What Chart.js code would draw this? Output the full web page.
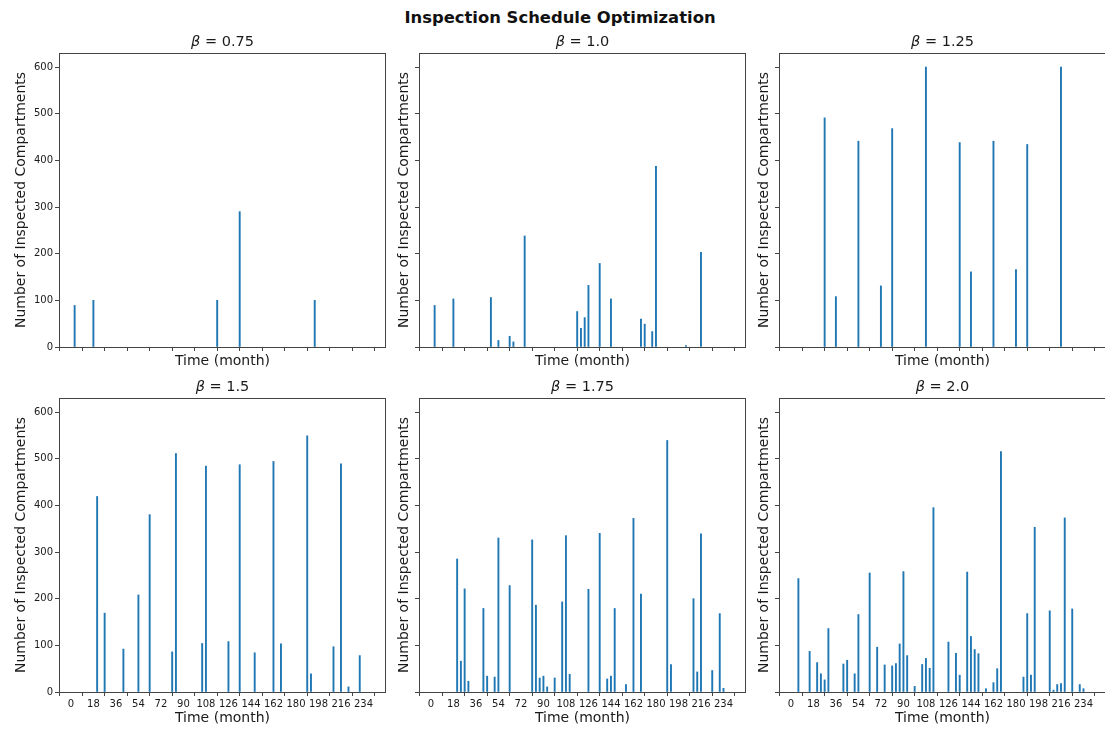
<!DOCTYPE html>
<html>
<head>
<meta charset="utf-8">
<script src="https://cdn.jsdelivr.net/npm/chart.js@4.4.0/dist/chart.umd.min.js"></script>
<style>
  html, body { margin: 0; padding: 0; background: #fff; }
  #fig { position: relative; width: 1105px; height: 731px; overflow: hidden; background: #fff;
         font-family: "DejaVu Sans", sans-serif; }
  #suptitle { position: absolute; top: 8px; left: 560px; transform: translateX(-50%);
              font-weight: bold; font-size: 16.4px; line-height: 20px; white-space: nowrap; color: #111; }
  .panel { position: absolute; }
</style>
</head>
<body>
<div id="fig">
  <div id="suptitle">Inspection Schedule Optimization</div>
</div>
<script>
// Shape parameter of each schedule, one panel per value
const betaLabels = ['0.75', '1.0', '1.25', '1.5', '1.75', '2.0'];

// Axis ticks shared by every panel
const monthTicks = [0, 18, 36, 54, 72, 90, 108, 126, 144, 162, 180, 198, 216, 234];
const countTicks = [0, 100, 200, 300, 400, 500, 600];

// Inspection month and number of inspected compartments, per beta
const months075 = [3, 18, 117, 135, 195];
const counts075 = [89, 100, 100, 290, 100];

const months100 = [3, 18, 48, 54, 63, 66, 75, 117, 120, 123, 126, 135, 144, 168, 171, 177, 180, 204, 216];
const counts100 = [89, 103, 106, 14, 23, 11, 238, 76, 40, 63, 132, 179, 103, 60, 49, 33, 387, 3, 203];

const months125 = [27, 36, 54, 72, 81, 108, 135, 144, 162, 180, 189, 216];
const counts125 = [491, 108, 441, 131, 468, 600, 438, 161, 441, 166, 434, 600];

const months150 = [21, 27, 42, 54, 63, 81, 84, 105, 108, 126, 135, 147, 162, 168, 189, 192, 210, 216, 222, 231];
const counts150 = [419, 169, 92, 208, 380, 86, 511, 104, 484, 108, 487, 84, 494, 103, 549, 39, 97, 489, 11, 78];

const months175 = [21, 24, 27, 30, 42, 45, 51, 54, 63, 81, 84, 87, 90, 93, 99, 105, 108, 111, 126, 135,
                   141, 144, 147, 156, 162, 168, 189, 192, 210, 213, 216, 225, 231, 234];
const counts175 = [285, 66, 221, 23, 179, 34, 32, 330, 228, 326, 186, 30, 34, 11, 30, 193, 335, 38, 220, 340,
                   28, 34, 179, 16, 372, 210, 539, 59, 200, 43, 339, 46, 168, 8];

const months200 = [6, 15, 21, 24, 27, 30, 42, 45, 51, 54, 63, 69, 75, 81, 84, 87, 90, 93, 99, 105,
                   108, 111, 114, 126, 132, 135, 141, 144, 147, 150, 156, 162, 165, 168, 186, 189, 192, 195,
                   207, 210, 213, 216, 219, 225, 231, 234];
const counts200 = [243, 87, 63, 39, 26, 136, 60, 68, 39, 166, 255, 96, 58, 56, 61, 103, 258, 78, 12, 59,
                   72, 51, 395, 107, 83, 36, 257, 119, 91, 82, 7, 20, 50, 515, 32, 168, 36, 353,
                   174, 4, 16, 18, 373, 178, 16, 7];

const monthSeries = [months075, months100, months125, months150, months175, months200];
const countSeries = [counts075, counts100, counts125, counts150, counts175, counts200];

// Grid geometry (axes boxes in page pixels)
const AX_LEFT = [59, 419, 779];
const AX_TOP = [53, 398];
const AX_W = 327, AX_H = 294;
const Y_BOX = 59, TOP_PAD = 30, RIGHT_PAD = 4;
const X_BOX = [24, 38];

const FONT = '"DejaVu Sans", sans-serif';
const TEXT = '#1a1a1a';
const LINE = '#444';
const BAR = '#1f77b4';

// Draws the closed axes frame and the subplot title with an italic beta
const framePlugin = {
  id: 'panelFrame',
  afterDatasetsDraw(chart, args, opts) {
    const { ctx, chartArea: a } = chart;
    ctx.save();
    ctx.strokeStyle = LINE;
    ctx.lineWidth = 1;
    const l = Math.round(a.left) + 0.5, t = Math.round(a.top) + 0.5;
    const r = Math.round(a.right) - 0.5, b = Math.round(a.bottom) + 0.5;
    ctx.strokeRect(l, t, r - l, b - t);

    const size = 14.5;
    const sym = '\u03B2', rest = ' = ' + opts.label;
    ctx.fillStyle = TEXT;
    ctx.textBaseline = 'middle';
    ctx.textAlign = 'left';
    ctx.font = `italic ${size}px ${FONT}`;
    const w1 = ctx.measureText(sym).width;
    ctx.font = `${size}px ${FONT}`;
    const w2 = ctx.measureText(rest).width;
    const x0 = (a.left + a.right) / 2 - (w1 + w2) / 2;
    const y = a.top - 11;
    ctx.font = `italic ${size}px ${FONT}`;
    ctx.fillText(sym, x0, y);
    ctx.font = `${size}px ${FONT}`;
    ctx.fillText(rest, x0 + w1, y);
    ctx.restore();
  }
};

function makePanel(idx) {
  const col = idx % 3, row = Math.floor(idx / 3);
  const xBox = X_BOX[row];
  const width = Y_BOX + AX_W + RIGHT_PAD;
  const height = TOP_PAD + AX_H + xBox;

  const holder = document.createElement('div');
  holder.className = 'panel';
  holder.style.left = (AX_LEFT[col] - Y_BOX) + 'px';
  holder.style.top = (AX_TOP[row] - TOP_PAD) + 'px';
  holder.style.width = width + 'px';
  holder.style.height = height + 'px';
  const canvas = document.createElement('canvas');
  canvas.width = width; canvas.height = height;
  canvas.style.width = width + 'px'; canvas.style.height = height + 'px';
  holder.appendChild(canvas);
  document.getElementById('fig').appendChild(holder);

  const months = monthSeries[idx], counts = countSeries[idx];
  const gridOpts = { display: true, drawOnChartArea: false, drawTicks: true,
                     tickLength: 4, tickColor: LINE, tickWidth: 1 };

  new Chart(canvas, {
    type: 'bar',
    data: {
      datasets: [{
        data: months.map((m, i) => ({ x: m, y: counts[i] })),
        backgroundColor: BAR,
        borderWidth: 0,
        barThickness: 1.25
      }]
    },
    options: {
      responsive: false,
      animation: false,
      devicePixelRatio: 1,
      layout: { padding: { top: TOP_PAD, right: RIGHT_PAD, bottom: 0, left: 0 } },
      plugins: {
        legend: { display: false },
        tooltip: { enabled: false },
        panelFrame: { label: betaLabels[idx] }
      },
      scales: {
        x: {
          type: 'linear',
          min: -9.5, max: 252,
          offset: false,
          afterBuildTicks: s => { s.ticks = monthTicks.map(v => ({ value: v })); },
          afterFit: s => { s.height = xBox; },
          ticks: {
            autoSkip: false, maxRotation: 0, padding: 2, color: TEXT,
            font: { family: FONT, size: 10 },
            callback: v => (row === 1 ? String(v) : '')
          },
          grid: gridOpts,
          border: { display: false },
          title: {
            display: true, text: 'Time (month)', color: TEXT,
            font: { family: FONT, size: 14 },
            padding: row === 1 ? { top: 3.6, bottom: 3.6 } : { top: 1, bottom: 1 }
          }
        },
        y: {
          type: 'linear',
          min: 0, max: 630,
          afterBuildTicks: s => { s.ticks = countTicks.map(v => ({ value: v })); },
          afterFit: s => { s.width = Y_BOX; },
          ticks: {
            padding: 2, color: TEXT,
            font: { family: FONT, size: 10 },
            callback: v => (col === 0 ? String(v) : '')
          },
          grid: gridOpts,
          border: { display: false },
          title: {
            display: true, text: 'Number of Inspected Compartments', color: TEXT,
            font: { family: FONT, size: 14 },
            padding: col === 0 ? { top: 12.6, bottom: 12.6 } : { top: 36, bottom: 36 }
          }
        }
      }
    },
    plugins: [framePlugin]
  });
}

for (let i = 0; i < 6; i++) makePanel(i);
</script>
</body>
</html>
